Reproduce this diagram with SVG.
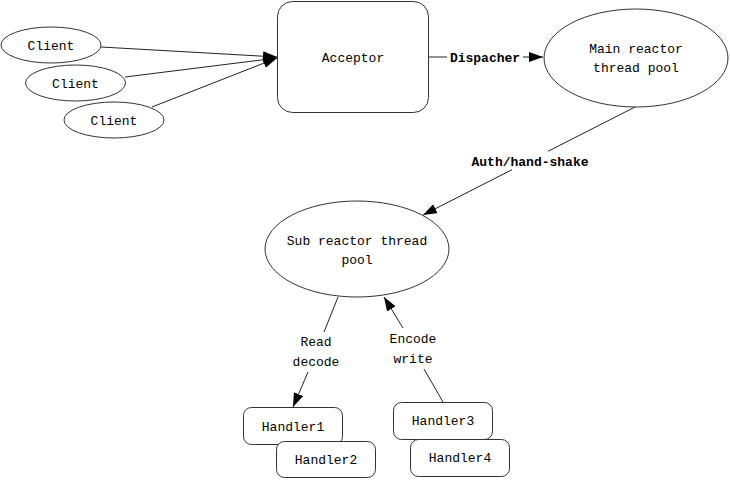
<svg xmlns="http://www.w3.org/2000/svg" width="730" height="480" viewBox="0 0 730 480">
<style>
.n{fill:#fff;stroke:#333;stroke-width:1}
.t{font-family:"Liberation Mono","DejaVu Sans Mono",monospace;font-size:13px;fill:#000;text-anchor:middle}
.b{font-weight:bold}
.e{fill:none;stroke:#222;stroke-width:1}
</style>
<defs>
<marker id="a" markerUnits="userSpaceOnUse" markerWidth="15" markerHeight="11" refX="14" refY="5" orient="auto">
<path d="M0,0 L14,5 L0,10 z" fill="#000"/>
</marker>
</defs>
<rect width="730" height="480" fill="#fff"/>
<g id="edges">
<line class="e" x1="101" y1="47" x2="277" y2="57" marker-end="url(#a)"/>
<line class="e" x1="125" y1="77" x2="277" y2="58" marker-end="url(#a)"/>
<line class="e" x1="152" y1="107" x2="277" y2="58" marker-end="url(#a)"/>
<line class="e" x1="429" y1="57" x2="447" y2="57"/>
<line class="e" x1="523" y1="57" x2="543" y2="57" marker-end="url(#a)"/>
<text class="t b" x="485" y="62">Dispacher</text>
<line class="e" x1="637" y1="106" x2="548" y2="151.3"/>
<line class="e" x1="512" y1="169.7" x2="423" y2="215" marker-end="url(#a)"/>
<text class="t b" x="530" y="166">Auth/hand-shake</text>
<line class="e" x1="338" y1="297" x2="324" y2="332"/>
<line class="e" x1="308" y1="372" x2="293" y2="407" marker-end="url(#a)"/>
<text class="t" x="316" y="346">Read</text>
<text class="t" x="316" y="366">decode</text>
<line class="e" x1="443" y1="402" x2="424" y2="369"/>
<line class="e" x1="403" y1="328" x2="384" y2="297" marker-end="url(#a)"/>
<text class="t" x="413" y="343">Encode</text>
<text class="t" x="413" y="363">write</text>
</g>
<g id="client1"><ellipse class="n" cx="51" cy="45" rx="50" ry="18"/><text class="t" x="51" y="50">Client</text></g>
<g id="client2"><ellipse class="n" cx="75.5" cy="83" rx="50" ry="18"/><text class="t" x="75.5" y="88">Client</text></g>
<g id="client3"><ellipse class="n" cx="114" cy="120" rx="50" ry="18"/><text class="t" x="114" y="125">Client</text></g>
<g id="acceptor"><rect class="n" x="277.5" y="1.5" width="151" height="111" rx="15"/><text class="t" x="353" y="62">Acceptor</text></g>
<g id="main-reactor"><ellipse class="n" cx="636" cy="58" rx="92" ry="49"/><text class="t" x="636" y="53">Main reactor</text><text class="t" x="636" y="72">thread pool</text></g>
<g id="sub-reactor"><ellipse class="n" cx="357" cy="249" rx="92" ry="48"/><text class="t" x="357" y="245">Sub reactor thread</text><text class="t" x="357" y="264">pool</text></g>
<g id="handler1"><rect class="n" x="243.5" y="407.5" width="99" height="37" rx="8"/><text class="t" x="293" y="431">Handler1</text></g>
<g id="handler2"><rect class="n" x="276.5" y="441.5" width="99" height="36" rx="8"/><text class="t" x="326" y="464">Handler2</text></g>
<g id="handler3"><rect class="n" x="393.5" y="402.5" width="99" height="37" rx="8"/><text class="t" x="443" y="425">Handler3</text></g>
<g id="handler4"><rect class="n" x="410.5" y="439.5" width="99" height="37" rx="8"/><text class="t" x="460" y="462">Handler4</text></g>
</svg>
